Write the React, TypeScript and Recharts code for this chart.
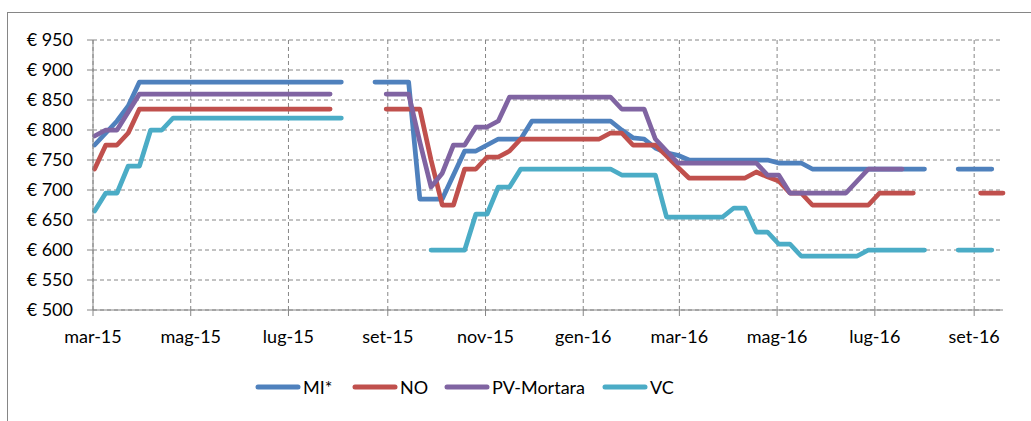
import { LineChart, Line, XAxis, YAxis, CartesianGrid } from 'recharts'

// weekly quotation dates (Mondays)
const weeks = [
  '2015-03-02', '2015-03-09', '2015-03-16', '2015-03-23', '2015-03-30',
  '2015-04-06', '2015-04-13', '2015-04-20', '2015-04-27',
  '2015-05-04', '2015-05-11', '2015-05-18', '2015-05-25',
  '2015-06-01', '2015-06-08', '2015-06-15', '2015-06-22', '2015-06-29',
  '2015-07-06', '2015-07-13', '2015-07-20', '2015-07-27',
  '2015-08-03', '2015-08-10', '2015-08-17', '2015-08-24', '2015-08-31',
  '2015-09-07', '2015-09-14', '2015-09-21', '2015-09-28',
  '2015-10-05', '2015-10-12', '2015-10-19', '2015-10-26',
  '2015-11-02', '2015-11-09', '2015-11-16', '2015-11-23', '2015-11-30',
  '2015-12-07', '2015-12-14', '2015-12-21', '2015-12-28',
  '2016-01-04', '2016-01-11', '2016-01-18', '2016-01-25',
  '2016-02-01', '2016-02-08', '2016-02-15', '2016-02-22', '2016-02-29',
  '2016-03-07', '2016-03-14', '2016-03-21', '2016-03-28',
  '2016-04-04', '2016-04-11', '2016-04-18', '2016-04-25',
  '2016-05-02', '2016-05-09', '2016-05-16', '2016-05-23', '2016-05-30',
  '2016-06-06', '2016-06-13', '2016-06-20', '2016-06-27',
  '2016-07-04', '2016-07-11', '2016-07-18', '2016-07-25',
  '2016-08-01', '2016-08-08', '2016-08-15', '2016-08-22', '2016-08-29',
  '2016-09-05', '2016-09-12', '2016-09-19',
]

const _ = null

const mi = [
  775, 795, 815, 840, 880, 880, 880, 880, 880, 880, 880, 880, 880, 880, 880, 880, 880, 880, 880, 880, 880, 880, 880,
  _, _, 880, 880, 880, 880, 685, 685, 685, 725, 765, 765, 775, 785, 785, 785,
  815, 815, 815, 815, 815, 815, 815, 815, 800, 787, 785, 770, 762, 758,
  750, 750, 750, 750, 750, 750, 750, 750, 745, 745, 745,
  735, 735, 735, 735, 735, 735, 735, 735, 735, 735, 735, _, _, 735, 735, 735, 735, _,
]

const no = [
  735, 775, 775, 795, 835, 835, 835, 835, 835, 835, 835, 835, 835, 835, 835, 835, 835, 835, 835, 835, 835, 835,
  _, _, _, _, 835, 835, 835, 835, 750, 675, 675, 735, 735, 755, 755, 765,
  785, 785, 785, 785, 785, 785, 785, 785, 795, 795, 775, 775, 775, 757, 738,
  720, 720, 720, 720, 720, 720, 730, 722, 715, 695, 695,
  675, 675, 675, 675, 675, 675, 695, 695, 695, 695, _, _, _, _, _, 695, 695, 695,
]

const pv = [
  790, 800, 800, 830, 860, 860, 860, 860, 860, 860, 860, 860, 860, 860, 860, 860, 860, 860, 860, 860, 860, 860,
  _, _, _, _, 860, 860, 860, 780, 705, 728, 775, 775, 805, 805, 815, 855,
  855, 855, 855, 855, 855, 855, 855, 855, 855, 835, 835, 835, 785, 765, 745,
  745, 745, 745, 745, 745, 745, 745, 725, 725, 695, 695, 695, 695, 695, 695,
  715, 735, 735, 735, 735, _, _, _, _, _, _, _, _, _,
]

const vc = [
  665, 695, 695, 740, 740, 800, 800, 820, 820, 820, 820, 820, 820, 820, 820, 820, 820, 820, 820, 820, 820, 820, 820,
  _, _, _, _, _, _, _, 600, 600, 600, 600, 660, 660, 705, 705,
  735, 735, 735, 735, 735, 735, 735, 735, 735, 725, 725, 725, 725,
  655, 655, 655, 655, 655, 655, 670, 670, 630, 630, 610, 610,
  590, 590, 590, 590, 590, 590, 600, 600, 600, 600, 600, 600, _, _, 600, 600, 600, 600, _,
]

const tickDates = [
  '2015-03-01', '2015-05-01', '2015-07-01', '2015-09-01', '2015-11-01',
  '2016-01-01', '2016-03-01', '2016-05-01', '2016-07-01', '2016-09-01',
]
const tickLabels = [
  'mar-15', 'mag-15', 'lug-15', 'set-15', 'nov-15',
  'gen-16', 'mar-16', 'mag-16', 'lug-16', 'set-16',
]
const yTicks = [500, 550, 600, 650, 700, 750, 800, 850, 900, 950]

const toTime = (s: string) => {
  const [y, m, d] = s.split('-').map(Number)
  return Date.UTC(y, m - 1, d)
}

const series = [
  { key: 'mi', name: 'MI*', color: '#4F81BD', slot: 97 },
  { key: 'no', name: 'NO', color: '#C0504D', slot: 92 },
  { key: 'pv', name: 'PV-Mortara', color: '#8064A2', slot: 158 },
  { key: 'vc', name: 'VC', color: '#4BACC6', slot: 80 },
]

const data = weeks.map((w, i) => ({ t: toTime(w), mi: mi[i], no: no[i], pv: pv[i], vc: vc[i] }))
const ticks = tickDates.map(toTime)
const xDomain = [toTime('2015-03-01'), toTime('2016-09-19')]
const font = 'Lato, "Open Sans", sans-serif'
const grey = '#868686'

// vertical grid only at the month ticks (no extra line at the plot's right edge)
const gridX = ({ offset }: any) =>
  ticks.map(t => offset.left + ((t - xDomain[0]) / (xDomain[1] - xDomain[0])) * offset.width)

export default function App() {
  return (
    <div style={{ position: 'absolute', left: 0, top: 0, width: 1031, height: 421, overflow: 'hidden', background: '#fff', fontFamily: font }}>
      <div style={{ position: 'absolute', left: 7, top: 12, width: 1100, height: 500, borderLeft: `1px solid ${grey}`, borderTop: `1px solid ${grey}` }} />
      <div style={{ position: 'absolute', left: 0, top: 0 }}>
        <LineChart width={1031} height={421} data={data} margin={{ top: 40, right: 28, bottom: 0, left: 0 }}>
          <CartesianGrid
            stroke={grey}
            strokeDasharray="4 3"
            syncWithTicks
            verticalCoordinatesGenerator={gridX}
          />
          <XAxis
            dataKey="t" type="number" scale="time"
            domain={xDomain}
            ticks={ticks}
            tickFormatter={v => tickLabels[ticks.indexOf(v)] ?? ''}
            height={111}
            stroke={grey}
            tickSize={6}
            tickMargin={14}
            tick={{ fill: '#000', fontSize: 18, fontFamily: font }}
            interval={0}
          />
          <YAxis
            type="number" domain={[500, 950]} ticks={yTicks}
            tickFormatter={v => `€ ${v}`}
            width={93}
            stroke={grey}
            tickSize={6}
            tickMargin={14}
            tick={{ fill: '#000', fontSize: 18, fontFamily: font }}
            interval={0}
          />
          {series.map(s => (
            <Line
              key={s.key}
              dataKey={s.key}
              name={s.name}
              type="linear"
              stroke={s.color}
              strokeWidth={4.75}
              strokeLinecap="round"
              strokeLinejoin="round"
              dot={false}
              activeDot={false}
              connectNulls={false}
              isAnimationActive={false}
            />
          ))}
        </LineChart>
      </div>
      <div style={{ position: 'absolute', left: 254, top: 376, display: 'flex', alignItems: 'center', fontSize: 18, color: '#000' }}>
        {series.map(s => (
          <div key={s.key} style={{ display: 'flex', alignItems: 'center', width: s.slot, whiteSpace: 'nowrap' }}>
            <svg width={48} height={10}>
              <line x1={4} y1={5} x2={44} y2={5} stroke={s.color} strokeWidth={5} strokeLinecap="round" />
            </svg>
            <span style={{ marginLeft: 1 }}>{s.name}</span>
          </div>
        ))}
      </div>
    </div>
  )
}
